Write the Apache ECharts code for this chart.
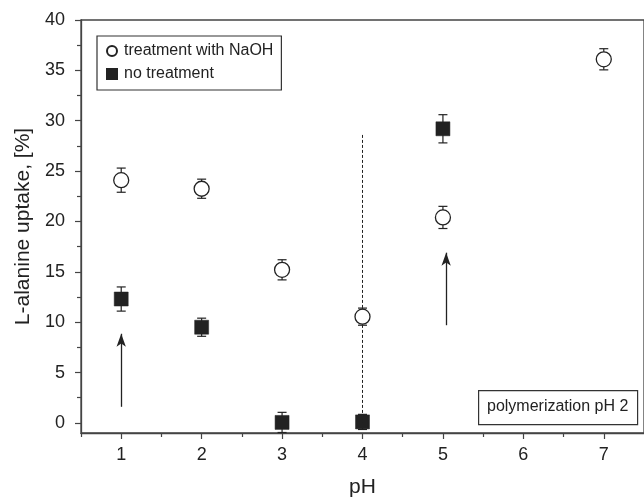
<!DOCTYPE html>
<html><head><meta charset="utf-8">
<script src="https://cdn.jsdelivr.net/npm/echarts@6/dist/echarts.min.js"></script>
<style>html,body{margin:0;padding:0;background:#fff}#c{width:644px;height:503px}</style>
</head><body><div id="c"></div>
<script>
const phNaOH = [1, 2, 3, 4, 5, 7];
const valNaOH = [24.1, 23.25, 15.2, 10.55, 20.4, 36.1];
const errNaOH = [1.2, 0.95, 1.0, 0.85, 1.1, 1.05];
const phNo = [1, 2, 3, 4, 5];
const valNo = [12.3, 9.5, 0.05, 0.1, 29.2];
const errNo = [1.2, 0.9, 1.0, 0.75, 1.4];
const xTicks = [1, 2, 3, 4, 5, 6, 7];
const xMinor = [0.5, 1.5, 2.5, 3.5, 4.5, 5.5, 6.5];
const yTicks = [0, 5, 10, 15, 20, 25, 30, 35, 40];
const yMinor = [2.5, 7.5, 12.5, 17.5, 22.5, 27.5, 32.5, 37.5];
const arrows = [[1, 1.6, 8.85], [5.04, 9.7, 16.9]];
const dashLine = [4, 0, 28.7];
const nameNaOH = 'treatment with NaOH';
const nameNo = 'no treatment';
const noteText = 'polymerization pH 2';

const INK = '#222';
const FONT = '"Liberation Sans", Arial, sans-serif';

function errData(xs, vs, es) {
  return xs.map((x, i) => [x, vs[i] - es[i], vs[i] + es[i]]);
}
function errItem(params, api) {
  const cs = params.coordSys;
  const x = api.value(0), lo = api.value(1), hi = api.value(2);
  const p1 = api.coord([x, lo]), p2 = api.coord([x, hi]);
  const bottom = cs.y + cs.height, top = cs.y;
  const w = 4.5;
  const st = {stroke: INK, lineWidth: 1.2};
  const ch = [];
  const y1 = Math.min(p1[1], bottom), y2 = Math.max(p2[1], top);
  ch.push({type: 'line', shape: {x1: p1[0], y1: y1, x2: p1[0], y2: y2}, style: st});
  if (p1[1] <= bottom) ch.push({type: 'line', shape: {x1: p1[0] - w, y1: p1[1], x2: p1[0] + w, y2: p1[1]}, style: st});
  if (p2[1] >= top) ch.push({type: 'line', shape: {x1: p2[0] - w, y1: p2[1], x2: p2[0] + w, y2: p2[1]}, style: st});
  return {type: 'group', children: ch};
}

const chart = echarts.init(document.getElementById('c'), null, {renderer: 'canvas'});
const axisLineStyle = {color: '#444', width: 1.3};
const baseX = {type: 'value', min: 0.5, max: 7.5, gridIndex: 0, splitLine: {show: false}};
const baseY = {type: 'value', min: -1, max: 40, gridIndex: 0, splitLine: {show: false}};

chart.setOption({
  animation: false,
  textStyle: {fontFamily: FONT},
  grid: {left: 81, top: 20, width: 572, height: 420, show: true, borderColor: '#444', borderWidth: 1.3, backgroundColor: 'transparent'},
  xAxis: [
    Object.assign({}, baseX, {
      position: 'bottom',
      name: 'pH', nameLocation: 'middle', nameGap: 44,
      nameTextStyle: {fontSize: 21, color: '#222', fontFamily: FONT},
      axisLine: {show: true, onZero: false, lineStyle: axisLineStyle},
      axisTick: {show: true, length: 6, inside: false, customValues: xTicks, lineStyle: {color: '#444', width: 1.2}},
      axisLabel: {show: true, customValues: xTicks, margin: 13, fontSize: 18, color: '#222', fontFamily: FONT}
    }),
    Object.assign({}, baseX, {
      position: 'bottom',
      axisLine: {show: false, onZero: false},
      axisTick: {show: true, length: 4, customValues: xMinor, lineStyle: {color: '#444', width: 1.2}},
      axisLabel: {show: false}
    })
  ],
  yAxis: [
    Object.assign({}, baseY, {
      position: 'left',
      name: 'L-alanine uptake, [%]', nameLocation: 'middle', nameGap: 47, nameRotate: 90,
      nameTextStyle: {fontSize: 21, color: '#222', fontFamily: FONT},
      axisLine: {show: true, onZero: false, lineStyle: axisLineStyle},
      axisTick: {show: true, length: 6, customValues: yTicks, lineStyle: {color: '#444', width: 1.2}},
      axisLabel: {show: true, customValues: yTicks, margin: 16, fontSize: 18, color: '#222', fontFamily: FONT}
    }),
    Object.assign({}, baseY, {
      position: 'left',
      axisLine: {show: false, onZero: false},
      axisTick: {show: true, length: 4, customValues: yMinor, lineStyle: {color: '#444', width: 1.2}},
      axisLabel: {show: false}
    })
  ],
  legend: {
    orient: 'vertical', left: 97, top: 36,
    data: [nameNaOH, nameNo],
    backgroundColor: '#fff', borderColor: '#333', borderWidth: 1.2,
    padding: [7, 8, 8, 9], itemGap: 7, itemWidth: 10, itemHeight: 10,
    textStyle: {fontSize: 16, color: '#222', fontFamily: FONT, padding: [0, 0, 0, 2]}
  },
  graphic: [
    {type: 'rect', left: 478, top: 390, z: 10, shape: {width: 159, height: 34}, style: {fill: '#fff', stroke: '#333', lineWidth: 1.2}},
    {type: 'text', x: 487, y: 407, z: 11, style: {text: noteText, fontSize: 16, fill: '#222', fontFamily: FONT, verticalAlign: 'middle', align: 'left'}}
  ],
  series: [
    {type: 'custom', name: 'errNaOH', renderItem: errItem, data: errData(phNaOH, valNaOH, errNaOH), z: 2, silent: true, encode: {x: 0, y: [1, 2]}},
    {type: 'custom', name: 'errNo', renderItem: errItem, data: errData(phNo, valNo, errNo), z: 2, silent: true, encode: {x: 0, y: [1, 2]}},
    {
      type: 'scatter', name: nameNo, symbol: 'rect', symbolSize: 14, z: 4,
      data: phNo.map((x, i) => [x, valNo[i]]),
      itemStyle: {color: INK, borderColor: INK, borderWidth: 0.5, opacity: 1},
      markLine: {
        silent: true, symbol: ['none', 'none'], label: {show: false},
        lineStyle: {color: INK, width: 1, type: [3, 2]},
        data: [[{coord: [dashLine[0], dashLine[1]]}, {coord: [dashLine[0], dashLine[2]]}]]
      }
    },
    {
      type: 'scatter', name: nameNaOH, symbol: 'circle', symbolSize: 15, z: 5,
      data: phNaOH.map((x, i) => [x, valNaOH[i]]),
      itemStyle: {color: '#fff', borderColor: INK, borderWidth: 1.3, opacity: 1},
      markLine: {
        silent: true, symbol: ['none', 'arrow'], symbolSize: [7, 13], label: {show: false},
        lineStyle: {color: INK, width: 1.3, type: 'solid'},
        data: arrows.map(a => [{coord: [a[0], a[1]]}, {coord: [a[0], a[2]]}])
      }
    }
  ]
});
</script>
</body></html>
